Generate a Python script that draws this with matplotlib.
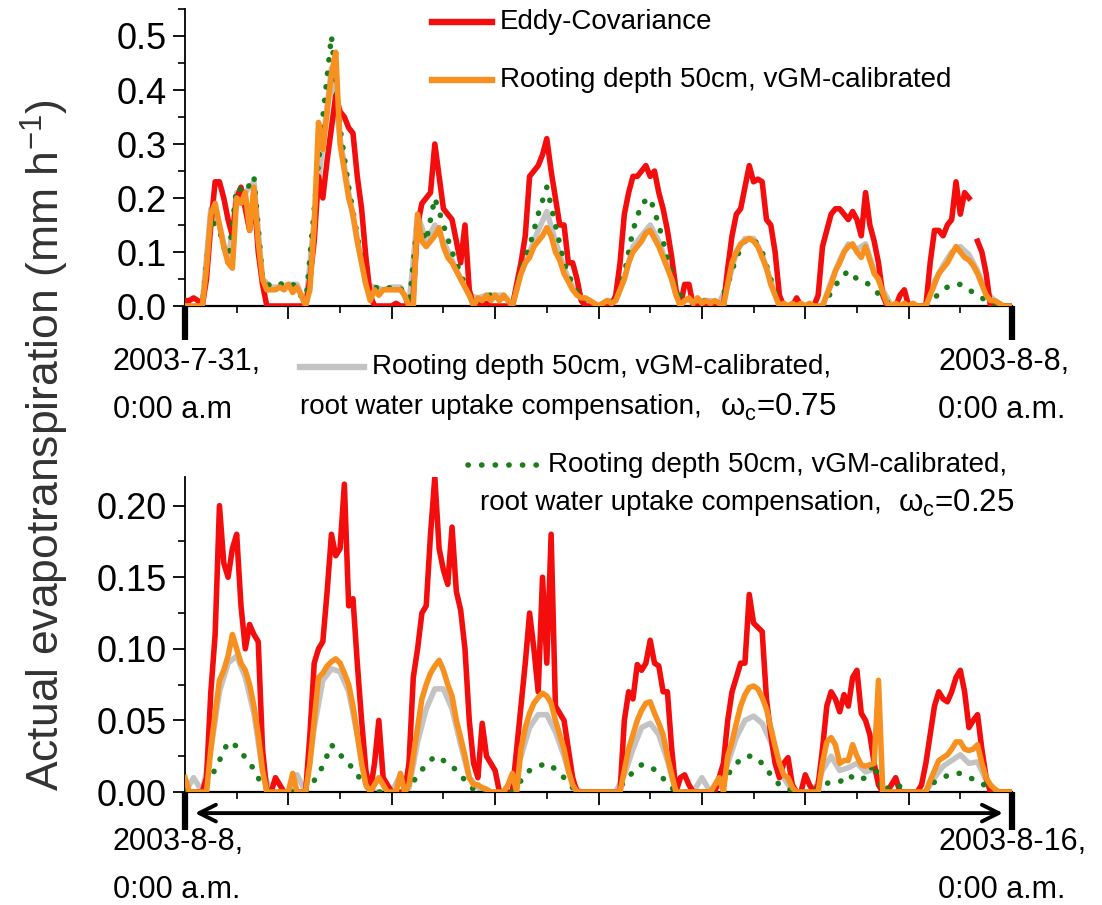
#!/usr/bin/env python3
"""
Actual evapotranspiration: eddy-covariance vs. root water uptake model runs,
two 8-day windows (2003-7-31 .. 2003-8-8 and 2003-8-8 .. 2003-8-16).
"""
import numpy as np
import matplotlib
matplotlib.use("Agg")
import matplotlib.pyplot as plt
from matplotlib.lines import Line2D
from matplotlib.ticker import MultipleLocator, FormatStrFormatter
from matplotlib.transforms import blended_transform_factory

W, H = 1102, 905
nan = np.nan

# hours since start of each window (hourly for EC / orange, 2-hourly for the others)
HOURS = np.arange(0, 193)
HOURS_2H = np.arange(0, 193, 2)

# ---------------- top window: 2003-7-31 .. 2003-8-8 ----------------
TOP_EC = [
    0.01, 0.01, 0.015, 0.01, 0.0, 0.05, 0.15, 0.23, 0.23, 0.2, 0.16, 0.13, 0.2, 0.22, 0.18, 0.14, 0.21, 0.1, 0.04, 0.0, 0.0, 0.0, 0.0, 0.0,
    0.0, 0.0, 0.0, 0.0, 0.0, 0.05, 0.12, 0.24, 0.2, 0.27, 0.33, 0.39, 0.36, 0.35, 0.33, 0.32, 0.24, 0.18, 0.09, 0.02, 0.0, 0.0, 0.0, 0.0,
    0.0, 0.005, 0.0, 0.0, 0.0, 0.02, 0.15, 0.19, 0.2, 0.21, 0.3, 0.24, 0.18, 0.17, 0.16, 0.12, 0.08, 0.15, 0.03, 0.0, 0.005, 0.0, 0.005, 0.0,
    0.0, 0.0, 0.0, 0.0, 0.0, 0.04, 0.08, 0.13, 0.24, 0.25, 0.26, 0.28, 0.31, 0.25, 0.2, 0.15, 0.15, 0.08, 0.08, 0.05, 0.01, 0.0, 0.0, 0.0,
    0.0, 0.0, 0.0, 0.0, 0.02, 0.08, 0.17, 0.21, 0.24, 0.24, 0.25, 0.26, 0.24, 0.25, 0.21, 0.18, 0.14, 0.09, 0.03, 0.0, 0.04, 0.04, 0.0, 0.0,
    0.0, 0.0, 0.0, 0.0, 0.0, 0.0, 0.07, 0.13, 0.17, 0.18, 0.22, 0.26, 0.23, 0.235, 0.23, 0.16, 0.15, 0.1, 0.02, 0.0, 0.0, 0.0, 0.015, 0.0,
    0.0, 0.0, 0.0, 0.02, 0.11, 0.14, 0.17, 0.18, 0.18, 0.17, 0.16, 0.175, 0.16, 0.13, 0.21, 0.15, 0.12, 0.08, 0.02, 0.0, 0.0, 0.0, 0.02, 0.03,
    0.0, 0.0, 0.0, 0.0, 0.0, 0.08, 0.14, 0.14, 0.13, 0.15, 0.16, 0.23, 0.17, 0.21, 0.2, nan, 0.12, 0.1, 0.06, 0.0, 0.0, 0.0, 0.0, 0.0, 0.0,
]
TOP_ORANGE = [
    0.0, 0.0, 0.0, 0.0, 0.0, 0.07, 0.17, 0.19, 0.15, 0.11, 0.08, 0.07, 0.2, 0.19, 0.21, 0.14, 0.22, 0.12, 0.05, 0.03, 0.03, 0.03, 0.035, 0.03,
    0.04, 0.025, 0.035, 0.02, 0.0, 0.03, 0.15, 0.34, 0.29, 0.36, 0.43, 0.47, 0.3, 0.25, 0.2, 0.17, 0.12, 0.08, 0.04, 0.01, 0.03, 0.02, 0.03, 0.03,
    0.03, 0.03, 0.03, 0.02, 0.0, 0.0, 0.17, 0.12, 0.11, 0.12, 0.13, 0.145, 0.11, 0.09, 0.08, 0.065, 0.05, 0.035, 0.02, 0.0, 0.015, 0.01, 0.02, 0.01,
    0.02, 0.01, 0.02, 0.01, 0.0, 0.03, 0.06, 0.08, 0.09, 0.11, 0.12, 0.13, 0.145, 0.13, 0.1, 0.085, 0.06, 0.045, 0.03, 0.02, 0.015, 0.015, 0.01, 0.005,
    0.0, 0.005, 0.01, 0.005, 0.01, 0.03, 0.05, 0.08, 0.1, 0.11, 0.12, 0.135, 0.14, 0.125, 0.11, 0.09, 0.07, 0.05, 0.02, 0.0, 0.01, 0.015, 0.005, 0.015,
    0.005, 0.01, 0.005, 0.01, 0.005, 0.0, 0.04, 0.08, 0.1, 0.115, 0.12, 0.125, 0.12, 0.11, 0.09, 0.07, 0.04, 0.02, 0.0, 0.005, 0.0, 0.005, 0.0, 0.005,
    0.0, 0.005, 0.0, 0.0, 0.0, 0.02, 0.04, 0.065, 0.08, 0.1, 0.11, 0.115, 0.1, 0.09, 0.11, 0.085, 0.06, 0.05, 0.025, 0.005, 0.0, 0.005, 0.0, 0.005,
    0.0, 0.005, 0.0, 0.0, 0.0, 0.02, 0.04, 0.06, 0.07, 0.08, 0.095, 0.11, 0.1, 0.09, 0.085, 0.075, 0.06, 0.04, 0.02, 0.01, 0.01, 0.005, 0.0, 0.0, 0.0,
]
TOP_GRAY = [
    0.0, 0.0, 0.0, 0.18, 0.15, 0.08, 0.21, 0.21, 0.23, 0.05, 0.035, 0.035,
    0.04, 0.04, 0.0, 0.16, 0.3, 0.44, 0.31, 0.21, 0.12, 0.04, 0.035, 0.03,
    0.035, 0.035, 0.0, 0.17, 0.12, 0.15, 0.12, 0.085, 0.05, 0.02, 0.015, 0.02,
    0.02, 0.02, 0.0, 0.06, 0.1, 0.14, 0.175, 0.12, 0.07, 0.035, 0.015, 0.01,
    0.0, 0.01, 0.01, 0.05, 0.11, 0.13, 0.15, 0.12, 0.075, 0.02, 0.01, 0.01,
    0.01, 0.01, 0.005, 0.04, 0.1, 0.125, 0.125, 0.095, 0.045, 0.0, 0.0, 0.0,
    0.0, 0.0, 0.0, 0.045, 0.085, 0.115, 0.105, 0.115, 0.065, 0.03, 0.0, 0.0,
    0.0, 0.0, 0.0, 0.045, 0.075, 0.1, 0.11, 0.095, 0.065, 0.025, 0.01, 0.0, 0.0,
]
TOP_GREEN = [
    0.0, 0.0, 0.0, 0.16, 0.14, 0.08, 0.22, 0.21, 0.24, 0.05, 0.035, 0.04,
    0.045, 0.035, 0.0, 0.18, 0.35, 0.5, 0.33, 0.22, 0.13, 0.04, 0.035, 0.03,
    0.035, 0.035, 0.0, 0.16, 0.12, 0.2, 0.15, 0.1, 0.06, 0.02, 0.01, 0.02,
    0.02, 0.015, 0.0, 0.07, 0.11, 0.17, 0.22, 0.15, 0.08, 0.04, 0.015, 0.01,
    0.0, 0.005, 0.01, 0.06, 0.14, 0.19, 0.2, 0.15, 0.09, 0.03, 0.01, 0.01,
    0.01, 0.01, 0.005, 0.04, 0.09, 0.12, 0.125, 0.1, 0.05, 0.005, 0.0, 0.0,
    0.0, 0.0, 0.0, 0.025, 0.05, 0.065, 0.05, 0.045, 0.03, 0.015, 0.0, 0.0,
    0.0, 0.0, 0.0, 0.015, 0.03, 0.04, 0.04, 0.03, 0.02, 0.01, 0.005, 0.0, 0.0,
]

# ---------------- bottom window: 2003-8-8 .. 2003-8-16 ----------------
BOT_EC = [
    0.0, 0.0, 0.0, 0.0, 0.0, 0.01, 0.07, 0.11, 0.2, 0.16, 0.15, 0.17, 0.18, 0.13, 0.1, 0.117, 0.11, 0.105, 0.03, 0.0, 0.0, 0.01, 0.005, 0.0,
    0.0, 0.0, 0.0, 0.0, 0.0, 0.04, 0.09, 0.1, 0.105, 0.14, 0.18, 0.165, 0.17, 0.215, 0.13, 0.135, 0.09, 0.05, 0.015, 0.0, 0.02, 0.05, 0.01, 0.005,
    0.0, 0.0, 0.0, 0.0, 0.02, 0.08, 0.1, 0.125, 0.13, 0.18, 0.22, 0.17, 0.155, 0.145, 0.185, 0.14, 0.127, 0.1, 0.05, 0.02, 0.01, 0.048, 0.025, 0.02,
    0.015, 0.0, 0.0, 0.0, 0.0, 0.03, 0.06, 0.09, 0.125, 0.1, 0.07, 0.15, 0.09, 0.18, 0.06, 0.055, 0.05, 0.03, 0.01, 0.0, 0.0, 0.0, 0.0, 0.0,
    0.0, 0.0, 0.0, 0.0, 0.0, 0.0, 0.05, 0.07, 0.065, 0.089, 0.085, 0.09, 0.106, 0.09, 0.088, 0.07, 0.07, 0.03, 0.0, 0.01, 0.012, 0.005, 0.0, 0.0,
    0.0, 0.0, 0.0, 0.0, 0.01, 0.02, 0.05, 0.07, 0.08, 0.09, 0.09, 0.138, 0.118, 0.115, 0.112, 0.065, 0.04, 0.02, 0.01, 0.02, 0.024, 0.005, 0.0, 0.0,
    0.012, 0.005, 0.0, 0.005, 0.03, 0.06, 0.07, 0.065, 0.056, 0.068, 0.06, 0.08, 0.085, 0.055, 0.05, 0.04, 0.02, 0.005, 0.0, 0.0, 0.005, 0.01, 0.0, 0.0,
    0.0, 0.0, 0.0, 0.005, 0.02, 0.04, 0.06, 0.07, 0.065, 0.063, 0.07, 0.08, 0.085, 0.07, 0.045, 0.05, 0.054, 0.03, 0.01, 0.0, 0.0, 0.0, 0.0, 0.0, 0.0,
]
BOT_ORANGE = [
    0.01, 0.0, 0.0, 0.0, 0.0, 0.0, 0.03, 0.055, 0.078, 0.085, 0.095, 0.11, 0.1, 0.09, 0.085, 0.075, 0.06, 0.04, 0.015, 0.0, 0.0, 0.0, 0.0, 0.0,
    0.0, 0.013, 0.0, 0.0, 0.0, 0.02, 0.05, 0.08, 0.083, 0.088, 0.091, 0.093, 0.09, 0.083, 0.075, 0.06, 0.04, 0.02, 0.005, 0.0, 0.005, 0.01, 0.005, 0.0,
    0.0, 0.0, 0.013, 0.0, 0.005, 0.025, 0.045, 0.065, 0.075, 0.083, 0.088, 0.092, 0.085, 0.075, 0.067, 0.05, 0.038, 0.025, 0.01, 0.005, 0.005, 0.003, 0.002, 0.0,
    0.0, 0.0, 0.0, 0.005, 0.013, 0.0, 0.03, 0.045, 0.055, 0.062, 0.066, 0.069, 0.067, 0.062, 0.05, 0.04, 0.03, 0.015, 0.005, 0.0, 0.0, 0.0, 0.0, 0.0,
    0.0, 0.0, 0.0, 0.0, 0.0, 0.0, 0.015, 0.03, 0.04, 0.05, 0.057, 0.062, 0.063, 0.055, 0.048, 0.04, 0.025, 0.012, 0.0, 0.0, 0.0, 0.0, 0.0, 0.0,
    0.0, 0.0, 0.0, 0.005, 0.01, 0.0, 0.025, 0.035, 0.048, 0.06, 0.068, 0.073, 0.074, 0.072, 0.066, 0.058, 0.045, 0.032, 0.02, 0.012, 0.01, 0.003, 0.0, 0.0,
    0.0, 0.0, 0.0, 0.0, 0.02, 0.035, 0.038, 0.033, 0.02, 0.022, 0.022, 0.033, 0.025, 0.019, 0.018, 0.019, 0.02, 0.078, 0.0, 0.0, 0.0, 0.0, 0.0, 0.0,
    0.0, 0.0, 0.0, 0.0, 0.0, 0.008, 0.015, 0.022, 0.024, 0.026, 0.03, 0.035, 0.035, 0.03, 0.029, 0.03, 0.033, 0.02, 0.01, 0.005, 0.002, 0.0, 0.0, 0.0, 0.0,
]
BOT_GRAY = [
    0.0, 0.01, 0.0, 0.03, 0.07, 0.09, 0.095, 0.08, 0.055, 0.015, 0.0, 0.0,
    0.0, 0.012, 0.0, 0.045, 0.078, 0.086, 0.084, 0.07, 0.04, 0.005, 0.0, 0.0,
    0.0, 0.012, 0.003, 0.035, 0.058, 0.072, 0.072, 0.058, 0.033, 0.01, 0.003, 0.0,
    0.0, 0.0, 0.01, 0.025, 0.045, 0.054, 0.054, 0.042, 0.025, 0.005, 0.0, 0.0,
    0.0, 0.0, 0.0, 0.012, 0.03, 0.045, 0.048, 0.04, 0.022, 0.0, 0.0, 0.0,
    0.01, 0.0, 0.005, 0.02, 0.038, 0.05, 0.053, 0.048, 0.035, 0.015, 0.005, 0.0,
    0.0, 0.0, 0.015, 0.025, 0.015, 0.017, 0.02, 0.014, 0.016, 0.0, 0.0, 0.0,
    0.0, 0.0, 0.0, 0.01, 0.018, 0.022, 0.026, 0.02, 0.021, 0.008, 0.0, 0.0, 0.0,
]
BOT_GREEN = [
    0.0, 0.0, 0.0, 0.01, 0.022, 0.035, 0.032, 0.024, 0.016, 0.004, 0.0, 0.0,
    0.0, 0.0, 0.0, 0.008, 0.018, 0.033, 0.026, 0.02, 0.012, 0.004, 0.0, 0.0,
    0.0, 0.0, 0.002, 0.012, 0.019, 0.025, 0.022, 0.018, 0.012, 0.004, 0.0, 0.0,
    0.0, 0.0, 0.0, 0.008, 0.015, 0.018, 0.02, 0.016, 0.01, 0.003, 0.0, 0.0,
    0.0, 0.0, 0.0, 0.007, 0.014, 0.019, 0.018, 0.013, 0.006, 0.0, 0.0, 0.0,
    0.0, 0.0, 0.002, 0.012, 0.02, 0.025, 0.025, 0.02, 0.012, 0.005, 0.002, 0.0,
    0.0, 0.0, 0.005, 0.007, 0.007, 0.012, 0.008, 0.01, 0.02, 0.0, 0.005, 0.004,
    0.0, 0.0, 0.0, 0.007, 0.01, 0.013, 0.013, 0.01, 0.008, 0.004, 0.0, 0.0, 0.0,
]

LABEL_EC = 'Eddy-Covariance'
LABEL_BASE = 'Rooting depth 50cm, vGM-calibrated'
LABEL_COMP = 'root water uptake compensation,'
TOP_DATES = ('2003-7-31,\n0:00 a.m', '2003-8-8,\n0:00 a.m.')
BOT_DATES = ('2003-8-8,\n0:00 a.m.', '2003-8-16,\n0:00 a.m.')

# Colors
RED = '#f40d0d'
ORANGE = '#f8901f'
GRAY = '#c3c3c3'
GREEN = '#1b7d1b'

LW = 4.0
DOTS = (0, (0.05, 2.4))
FONT = ['Liberation Sans', 'DejaVu Sans']

plt.rcParams['font.family'] = FONT
plt.rcParams['mathtext.fontset'] = 'custom'
plt.rcParams['mathtext.rm'] = 'Liberation Sans'
plt.rcParams['mathtext.it'] = 'Liberation Sans:italic'


def fx(x):
    return x / W


def fy(y):
    return 1 - y / H


def draw_series(ax, ec, orange, gray, green):
    ax.plot(HOURS, ec, color=RED, lw=LW, solid_joinstyle='round', zorder=3)
    ax.plot(HOURS_2H, gray, color=GRAY, lw=LW, zorder=2)
    ax.plot(HOURS_2H, green, color=GREEN, lw=LW, linestyle=DOTS,
            dash_capstyle='round', zorder=4)
    ax.plot(HOURS, orange, color=ORANGE, lw=LW, solid_joinstyle='round', zorder=5)


def style_axes(ax, ymax, major, minor, fmt, end_len):
    ax.set_xlim(0, 192)
    ax.set_ylim(0, ymax)
    for side in ('top', 'right'):
        ax.spines[side].set_visible(False)
    ax.spines['left'].set_linewidth(1.3)
    ax.spines['bottom'].set_linewidth(1.6)
    ax.xaxis.set_major_locator(MultipleLocator(24))
    ax.xaxis.set_minor_locator(MultipleLocator(12))
    ax.yaxis.set_major_locator(MultipleLocator(major))
    ax.yaxis.set_minor_locator(MultipleLocator(minor))
    ax.yaxis.set_major_formatter(FormatStrFormatter(fmt))
    ax.tick_params(axis='both', which='major', direction='out', length=9, width=1.3,
                   labelsize=26, pad=4)
    ax.tick_params(axis='both', which='minor', direction='out', length=5, width=1.2)
    ax.tick_params(axis='x', labelbottom=False)
    # thick markers at both ends of the time window
    trans = blended_transform_factory(ax.transData, ax.transAxes)
    for x in (0, 192):
        ax.plot([x, x], [0, -end_len], transform=trans, color='black', lw=4.5,
                solid_capstyle='butt', clip_on=False, zorder=6)


fig = plt.figure(figsize=(W / 100, H / 100), dpi=100)

ax_top = fig.add_axes([fx(185), fy(306), fx(827), 297 / H])
ax_bot = fig.add_axes([fx(185), fy(792), fx(827), 315 / H])

draw_series(ax_top, TOP_EC, TOP_ORANGE, TOP_GRAY, TOP_GREEN)
draw_series(ax_bot, BOT_EC, BOT_ORANGE, BOT_GRAY, BOT_GREEN)

style_axes(ax_top, 0.55, 0.1, 0.05, '%.1f', 0.115)
style_axes(ax_bot, 0.22, 0.05, 0.025, '%.2f', 0.12)

# double-headed arrow under the lower window
trans = blended_transform_factory(ax_bot.transData, ax_bot.transAxes)
ax_bot.annotate('', xy=(2.3, -0.067), xytext=(189.9, -0.067), xycoords=trans,
                textcoords=trans, annotation_clip=False,
                arrowprops=dict(arrowstyle='<->', lw=2.8, color='black',
                                mutation_scale=30, shrinkA=0, shrinkB=0))

# y label
fig.text(fx(45), fy(445), r'Actual evapotranspiration (mm h$^{-1}$)', rotation=90,
         ha='center', va='center', fontsize=32, color='#333333')


# legend entries drawn straight on the figure
def legend_line(x0, x1, y, **kw):
    fig.add_artist(Line2D([fx(x0), fx(x1)], [fy(y), fy(y)], transform=fig.transFigure, **kw))


TXT = dict(fontsize=20, va='center', ha='left', color='black')
OMEGA = dict(fontsize=22.5, va='center', ha='left', color='black')
legend_line(432, 492, 22, color=RED, lw=LW + 0.6)
fig.text(fx(500), fy(22), LABEL_EC, **TXT)
legend_line(432, 492, 80, color=ORANGE, lw=LW + 0.6)
fig.text(fx(500), fy(80), LABEL_BASE, **TXT)

legend_line(300, 364, 367, color=GRAY, lw=LW + 0.6)
fig.text(fx(372), fy(367), LABEL_BASE + ',', **TXT)
fig.text(fx(300), fy(407), LABEL_COMP, **TXT)
fig.text(fx(720), fy(407), r'$\mathregular{ω_c}$=0.75', **OMEGA)

legend_line(468, 540, 465, color=GREEN, lw=LW, linestyle=DOTS, dash_capstyle='round')
fig.text(fx(548), fy(465), LABEL_BASE + ',', **TXT)
fig.text(fx(480), fy(503), LABEL_COMP, **TXT)
fig.text(fx(898), fy(503), r'$\mathregular{ω_c}$=0.25', **OMEGA)

# window start / end labels
DATE = dict(fontsize=22, va='center', ha='left', color='black', linespacing=1.75)
fig.text(fx(113), fy(386), TOP_DATES[0], **DATE)
fig.text(fx(938), fy(386), TOP_DATES[1], **DATE)
fig.text(fx(113), fy(866), BOT_DATES[0], **DATE)
fig.text(fx(938), fy(866), BOT_DATES[1], **DATE)

fig.savefig('out.png', dpi=100, facecolor='white')
